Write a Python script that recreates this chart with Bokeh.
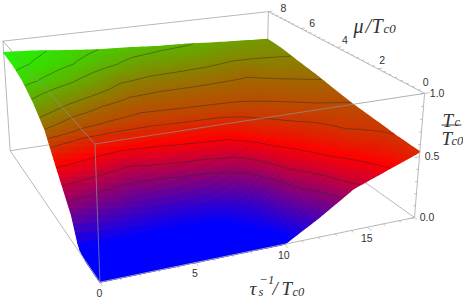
import numpy as np
from bokeh.plotting import figure
from bokeh.models import Range1d, ColumnDataSource
from bokeh.core.properties import value
from bokeh.embed import file_html
from bokeh.resources import INLINE

# ---- data ----
tau_values = [0, 2, 4, 6, 8, 10, 12, 14, 16, 18]
mu_values = [0, 1, 1.5, 2, 3, 4, 5, 6, 7, 8]
tc_mu0 = [0, 0, 0, 0, 0, 0, .16, .34, .44, .54]
tc_mu1 = [0, 0, 0, 0, 0, .09, .30, .43, .505, .553]
tc_mu15 = [.03, .03, .03, .03, .04, .14, .37, .47, .54, .565]
tc_mu2 = [.22, .16, .12, .10, .13, .24, .42, .51, .56, .575]
tc_mu3 = [.43, .39, .33, .38, .41, .43, .53, .565, .585, .595]
tc_mu4 = [.65, .59, .575, .565, .575, .58, .585, .60, .615, .625]
tc_mu5 = [.765, .695, .65, .625, .625, .625, .625, .63, .645, .66]
tc_mu6 = [.845, .80, .75, .69, .675, .675, .67, .66, .68, .685]
tc_mu7 = [.885, .855, .82, .785, .745, .735, .73, .715, .71, .715]
tc_mu8 = [.90, .88, .85, .825, .81, .79, .78, .76, .745, .73]
contour_levels = [.28, .36, .45, .555, .60, .65, .70, .775, .825, .87]
tau_ticks = [0, 5, 10, 15]
mu_ticks = [0, 2, 4, 6, 8]
tc_ticks = [0.0, 0.5, 1.0]
tc_tick_labels = ["0.0", "0.5", "1.0"]
TAU_MAX, MU_MAX = 18, 8

# ---- camera: a projective map fixed from where the box corners sit ----
calib_world = [(0, 0, 0), (1, 0, 0), (1, 0, 1), (1, 1, 1), (0, 1, 1), (0, 0, 1), (0, 1, 0)]
calib_px = [(99, 282), (414, 217), (424, 93), (268, 11), (2, 41), (95, 143), (10, 150)]
rows = []
for (X, Y, Z), (u, v) in zip(calib_world, calib_px):
    u, v = u / 400, v / 400
    rows.append([X, Y, Z, 1, 0, 0, 0, 0, -u * X, -u * Y, -u * Z, -u])
    rows.append([0, 0, 0, 0, X, Y, Z, 1, -v * X, -v * Y, -v * Z, -v])
CAM = np.linalg.svd(np.array(rows, float))[2][-1].reshape(3, 4)


def project(tau, mu, tc):
    tau, mu, tc = np.asarray(tau, float), np.asarray(mu, float), np.asarray(tc, float)
    h = np.stack([tau / TAU_MAX, mu / MU_MAX, tc, np.ones_like(tau + mu + tc)], -1) @ CAM.T
    return h[..., 0] / h[..., 2] * 400, h[..., 1] / h[..., 2] * 400


p = figure(width=463, height=298, output_backend="svg", toolbar_location=None,
           x_range=Range1d(0, 463), y_range=Range1d(298, 0),
           min_border=0, outline_line_color=None, background_fill_color="white")
p.xaxis.visible = False
p.yaxis.visible = False
p.grid.visible = False

BOX = "#b0b0b0"


def edge(a, b, color=BOX, alpha=1.0, width=0.9):
    x, y = project([a[0], b[0]], [a[1], b[1]], [a[2], b[2]])
    p.line(x, y, line_color=color, line_alpha=alpha, line_width=width)


T, M = TAU_MAX, MU_MAX
# edges behind the surface
edge((0, M, 0), (0, M, 1))
edge((0, M, 1), (T, M, 1))
edge((T, M, 1), (T, M, 0))
edge((0, M, 0), (T, M, 0))
edge((T, M, 0), (T, 0, 0))

# ---- surface ----
grid = np.array([tc_mu0, tc_mu1, tc_mu15, tc_mu2, tc_mu3, tc_mu4, tc_mu5, tc_mu6, tc_mu7, tc_mu8])
ft = np.linspace(0, T, 73)
fm = np.linspace(0, M, 57)
along_tau = np.array([np.interp(ft, tau_values, row) for row in grid])
fine = np.array([np.interp(fm, mu_values, along_tau[:, j]) for j in range(len(ft))]).T


def colour(z):
    blue, red, green = np.array([0, 0, 255.]), np.array([255, 0, 0.]), np.array([25, 255, 0.])
    if z < .46:
        c = blue + (red - blue) * np.clip((z - .03) / .43, 0, 1)
    else:
        c = red + (green - red) * np.clip((z - .46) / .46, 0, 1)
    return "#%02x%02x%02x" % tuple(int(round(v)) for v in c)


xs, ys, cols, depth = [], [], [], []
for i in range(len(fm) - 1):
    for j in range(len(ft) - 1):
        tt = [ft[j], ft[j + 1], ft[j + 1], ft[j]]
        mm = [fm[i], fm[i], fm[i + 1], fm[i + 1]]
        zz = [fine[i, j], fine[i, j + 1], fine[i + 1, j + 1], fine[i + 1, j]]
        x, y = project(tt, mm, zz)
        xs.append(x.tolist())
        ys.append(y.tolist())
        cols.append(colour(float(np.mean(zz))))
        depth.append(fm[i] * 3 - ft[j] * 0.3)
order = np.argsort(depth)[::-1]
src = ColumnDataSource(dict(xs=[xs[k] for k in order], ys=[ys[k] for k in order],
                            c=[cols[k] for k in order]))
p.patches("xs", "ys", source=src, fill_color="c", line_color="c", line_width=1.2)

# ---- contour lines (marching squares over the fine surface) ----
cx, cy = [], []
for lev0 in contour_levels:
    lev = lev0 + 1e-4
    for i in range(len(fm) - 1):
        for j in range(len(ft) - 1):
            corners = [(ft[j], fm[i], fine[i, j]), (ft[j + 1], fm[i], fine[i, j + 1]),
                       (ft[j + 1], fm[i + 1], fine[i + 1, j + 1]), (ft[j], fm[i + 1], fine[i + 1, j])]
            pts = []
            for a in range(4):
                c0, c1 = corners[a], corners[(a + 1) % 4]
                if (c0[2] - lev) * (c1[2] - lev) < 0:
                    f = (lev - c0[2]) / (c1[2] - c0[2])
                    pts.append((c0[0] + f * (c1[0] - c0[0]), c0[1] + f * (c1[1] - c0[1])))
            if len(pts) >= 2:
                x, y = project([pts[0][0], pts[1][0]], [pts[0][1], pts[1][1]], [lev, lev])
                cx.append(x.tolist())
                cy.append(y.tolist())
p.multi_line(cx, cy, line_color="#2a2a2a", line_alpha=0.5, line_width=0.9)

# edges in front of the surface
edge((0, 0, 0), (0, 0, 1), color="#909090", alpha=.8)
edge((0, 0, 1), (T, 0, 1), color="#909090", alpha=.8)
edge((0, 0, 1), (0, M, 1), color="#909090", alpha=.8)
edge((T, 0, 1), (T, M, 1))
edge((T, 0, 1), (T, 0, 0))
edge((0, 0, 0), (T, 0, 0))
edge((0, 0, 0), (0, M, 0))

# ---- ticks ----
TICK = "#b4b4b4"
for t in range(0, 19):
    edge((t, 0, 0), (t, -.1 if t % 5 else -.18, 0), color=TICK, width=.8)
for k in range(0, 33):
    m = k / 4
    edge((T, m, 1), (T + (.15 if k % 8 else .3), m, 1), color=TICK, width=.8)
for k in range(0, 11):
    z = k / 10
    edge((T, 0, z), (T - (.15 if k % 5 else .28), 0, z), color=TICK, width=.8)

LAB = "#333333"
lab_font = value("Liberation Sans")


def labels(x, y, texts, dx, dy):
    p.text(x + dx, y + dy, text=texts, text_font=lab_font, text_font_size="10.5px", text_color=LAB,
           text_align="center", text_baseline="middle")


tx, ty = project(tau_ticks, np.zeros(4), np.zeros(4))
labels(tx, ty, [str(v) for v in tau_ticks], -0.5, 10.5)
mx, my = project(np.full(5, T), mu_ticks, np.ones(5))
labels(mx, my, [str(v) for v in mu_ticks], 1 + 14 * np.array(mu_ticks) / M, -11 + 7 * np.array(mu_ticks) / M)
zx, zy = project(np.full(3, T), np.zeros(3), tc_ticks)
labels(zx, zy, tc_tick_labels, 12.5, -0.5)

# ---- axis titles built of plain text pieces ----
serif = value("Liberation Serif")


def piece(x, y, s, size):
    p.text([x], [y], text=[s], text_font=serif, text_font_style="italic", text_font_size=f"{size}px",
           text_color="#333333", text_align="left", text_baseline="alphabetic")


piece(249, 288, "τ", 19)
piece(258, 291, "s", 12.5)
piece(259, 279, "−1", 12.5)
piece(272, 288, "/", 19)
piece(281, 288, "T", 19)
piece(292, 291, "c0", 12.5)

piece(353, 25, "μ", 20)
piece(365, 25, "/", 20)
piece(371, 25, "T", 20)
piece(383, 27.5, "c0", 13)

piece(442, 119.5, "T", 19)
piece(454, 121, "c", 12.5)
p.line([441, 461], [124.5, 124.5], line_color="#333333", line_width=0.9)
piece(441, 137.5, "T", 19)
piece(451, 140, "c0", 12.5)

open("out.html", "w").write(file_html(p, INLINE))
